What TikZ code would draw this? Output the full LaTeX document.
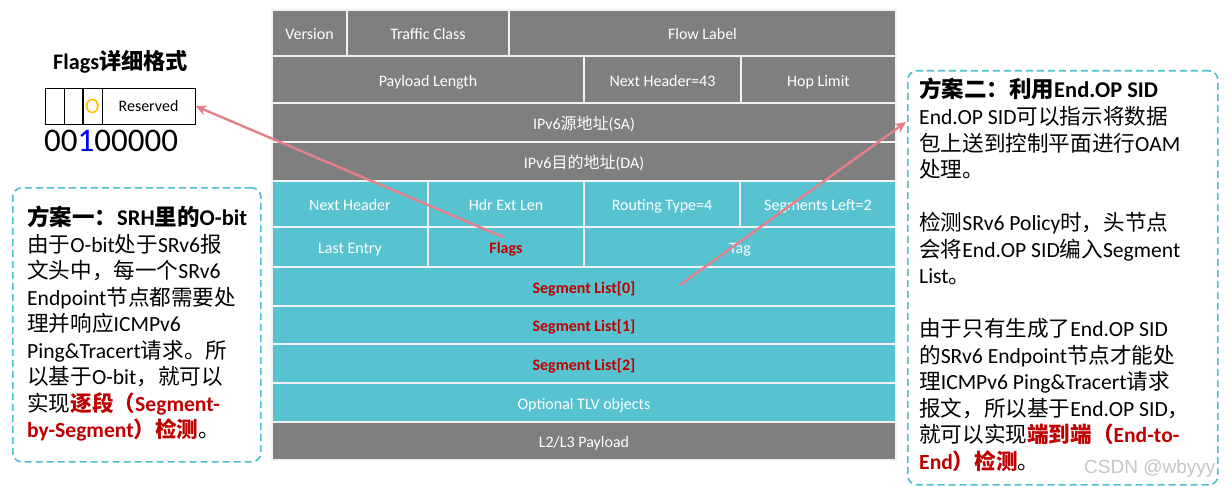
\documentclass[tikz,border=0pt]{standalone}
\usepackage{fontspec}
\setmainfont{Carlito}
\newfontfamily\cjk{Noto Sans CJK SC}
\newfontfamily\wmfont{Liberation Sans}
\usetikzlibrary{arrows.meta}
\definecolor{cellgray}{HTML}{7F7F7F}
\definecolor{cellcyan}{HTML}{57C3D1}
\definecolor{hred}{HTML}{C00000}
\definecolor{oorange}{HTML}{FFC000}
\definecolor{dashcyan}{HTML}{4FC0CF}
\definecolor{arrowpink}{HTML}{E3808B}
\newcommand\zh[1]{{\cjk #1}}
\newcommand\hl[1]{\textcolor{hred}{\bfseries #1}}
\newcommand\cell[7]{\node[cellbox, fill=#6, minimum width={(#4-#2)*1pt}, minimum height={(#5-#3)*1pt}] (#1) at ({(#2+#4)/2},{(#3+#5)/2}) {#7};}
\begin{document}
\begin{tikzpicture}[x=1pt,y=-1pt,
  cellbox/.style={draw=white!90!gray, line width=1.5pt, inner sep=0pt, text=white, text height=13pt, text depth=0pt, font=\fontsize{16}{18}\selectfont},
  txtline/.style={anchor=base west, inner sep=0pt, font=\fontsize{21.6}{26}\selectfont},
  ttlline/.style={anchor=base west, inner sep=0pt, font=\bfseries\fontsize{22.5}{26}\selectfont},
  dashbox/.style={draw=dashcyan, line width=1.6pt, dash pattern=on 7pt off 4pt, rounded corners=9pt, inner sep=0pt},
  flagcell/.style={draw=black, line width=0.9pt, inner sep=0pt, minimum height=36pt},
  pinkarrow/.style={draw=arrowpink, line width=2.4pt, -{Stealth[length=11pt,width=10pt]}}]
\useasboundingbox (0,0) rectangle (1232,487);
\fill[white] (0,0) rectangle (1232,487);

% IPv6 header
\cell{ver}{272}{10}{347}{56}{cellgray}{Version}
\cell{tc}{347}{10}{509}{56}{cellgray}{Traffic Class}
\cell{fl}{509}{10}{896}{56}{cellgray}{Flow Label}
\cell{pl}{272}{56}{584}{103}{cellgray}{Payload Length}
\cell{nh}{584}{56}{741}{103}{cellgray}{Next Header=43}
\cell{hop}{741}{56}{896}{103}{cellgray}{Hop Limit}
\cell{sa}{272}{103}{896}{142}{cellgray}{IPv6\zh{源地址}(SA)}
\cell{da}{272}{142}{896}{181}{cellgray}{IPv6\zh{目的地址}(DA)}
% SRH
\cell{snh}{272}{181}{428}{227}{cellcyan}{Next Header}
\cell{hel}{428}{181}{584}{227}{cellcyan}{Hdr Ext Len}
\cell{rt}{584}{181}{740}{227}{cellcyan}{Routing Type=4}
\cell{sl}{740}{181}{896}{227}{cellcyan}{Segments Left=2}
\cell{le}{272}{227}{428}{267}{cellcyan}{Last Entry}
\cell{fg}{428}{227}{584}{267}{cellcyan}{\hl{Flags}}
\cell{tag}{584}{227}{896}{267}{cellcyan}{Tag}
\cell{s0}{272}{267}{896}{306}{cellcyan}{\hl{Segment List[0]}}
\cell{s1}{272}{306}{896}{344}{cellcyan}{\hl{Segment List[1]}}
\cell{s2}{272}{344}{896}{383}{cellcyan}{\hl{Segment List[2]}}
\cell{tlv}{272}{383}{896}{422}{cellcyan}{Optional TLV objects}
\cell{pay}{272}{422}{896}{460}{cellgray}{L2/L3 Payload}

% Flags detail
\node[anchor=base west, inner sep=0pt, font=\bfseries\fontsize{22.2}{24}\selectfont] (ftitle) at (53,70) {Flags\zh{详细格式}};
\node[flagcell, minimum width=19pt] (f1) at (54.5,106) {};
\node[flagcell, minimum width=19pt] (f2) at (73.5,106) {};
\node[flagcell, minimum width=19pt, text=oorange, font=\fontsize{22}{24}\selectfont] (f3) at (92.5,106) {O};
\node[flagcell, minimum width=93pt, font=\fontsize{16}{18}\selectfont] (f4) at (148.5,106) {Reserved};
\draw[line width=1.4pt] (f3.north west) -- (f3.south west);
\node[anchor=base west, inner sep=0pt, font=\fontsize{33}{36}\selectfont] (bits) at (44,151) {00\textcolor{blue}{1}00000};

% Left box
\node[dashbox, anchor=north west, minimum width=248pt, minimum height=274pt] (lbox) at (12,187) {};
\node[ttlline] (l1) at (27,225.5) {\zh{方案一：}SRH\zh{里的}O-bit};
\node[txtline] (l2) at (27,252) {\zh{由于}O-bit\zh{处于}SRv6\zh{报}};
\node[txtline] (l3) at (27,278.5) {\zh{文头中，每一个}SRv6};
\node[txtline] (l4) at (27,305) {Endpoint\zh{节点都需要处}};
\node[txtline] (l5) at (27,331.5) {\zh{理并响应}ICMPv6};
\node[txtline] (l6) at (27,358) {Ping\&Tracert\zh{请求。所}};
\node[txtline] (l7) at (27,384.5) {\zh{以基于}O-bit\zh{，就可以}};
\node[txtline] (l8) at (27,411) {\zh{实现}\hl{\zh{逐段（}Segment-}};
\node[txtline] (l9) at (27,437.5) {\hl{by-Segment\zh{）检测}}\zh{。}};

% Right box
\node[dashbox, anchor=north west, minimum width=310pt, minimum height=414pt] (rbox) at (907,70) {};
\node[ttlline] (r1) at (919,98) {\zh{方案二：利用}End.OP SID};
\node[txtline] (r2) at (919,124.5) {End.OP SID\zh{可以指示将数据}};
\node[txtline] (r3) at (919,151) {\zh{包上送到控制平面进行}OAM};
\node[txtline] (r4) at (919,177.5) {\zh{处理。}};
\node[txtline] (r5) at (919,230.5) {\zh{检测}SRv6 Policy\zh{时，头节点}};
\node[txtline] (r6) at (919,257) {\zh{会将}End.OP SID\zh{编入}Segment};
\node[txtline] (r7) at (919,283.5) {List\zh{。}};
\node[txtline] (r8) at (919,336.5) {\zh{由于只有生成了}End.OP SID};
\node[txtline] (r9) at (919,363) {\zh{的}SRv6 Endpoint\zh{节点才能处}};
\node[txtline] (r10) at (919,389.5) {\zh{理}ICMPv6 Ping\&Tracert\zh{请求}};
\node[txtline] (r11) at (919,416) {\zh{报文，所以基于}End.OP SID\zh{，}};
\node[txtline] (r12) at (919,442.5) {\zh{就可以实现}\hl{\zh{端到端（}End-to-}};
\node[txtline] (r13) at (919,469) {\hl{End\zh{）检测}}\zh{。}};

% watermark
\node[anchor=base west, inner sep=0pt, font=\wmfont\fontsize{19}{22}\selectfont, text=gray!45] (wm) at (1084,473) {CSDN @wbyyy};

% arrows
\coordinate (a1s) at (503,237);
\coordinate (a2s) at (680,285);
\coordinate (a2e) at (906,122);
\draw[pinkarrow] (a1s) -- (f4.east);
\draw[pinkarrow] (a2s) -- (a2e);
\end{tikzpicture}
\end{document}
